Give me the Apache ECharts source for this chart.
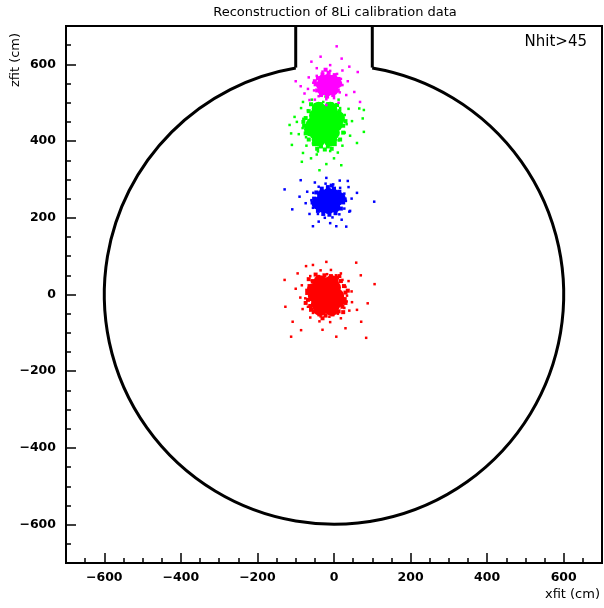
<!DOCTYPE html>
<html>
<head>
<meta charset="utf-8">
<title>Reconstruction of 8Li calibration data</title>
<script src="https://cdn.jsdelivr.net/npm/echarts@6/dist/echarts.min.js"></script>
<style>
  html, body { margin: 0; padding: 0; background: #fff; }
  #chart { width: 604px; height: 608px; }
</style>
</head>
<body>
<div id="chart"></div>
<script>
// axis range and labelled ticks (cm)
var AXIS_MIN = -700;
var AXIS_MAX = 700;
var TICK_VALUES = [-600, -400, -200, 0, 200, 400, 600];

// detector outline (cm)
var DETECTOR_RADIUS = 600;
var CHIMNEY_HALF_WIDTH = 100;
var CHIMNEY_TOP = 700;

// reconstructed vertices [xfit, zfit]: dense cores, fuzzy edges, sparse tails
var RED_CORE = [[-21,-3],[-50,-3],[8,-3],[-21,26],[-21,-32],[-42,18],[0,18],[-42,-24],[0,-24],
  [-36,-38],[-6,-38],[-36,32],[-6,32],[-53,12],[11,-15]];
var RED_EDGE = [[30,5],[28,-12],[26,22],[18,35],[8,44],[-8,48],[-25,50],[-42,45],[-55,35],
  [-64,22],[-70,4],[-68,-14],[-62,-30],[-52,-44],[-38,-52],[-22,-55],[-4,-52],[12,-44],
  [22,-32],[30,-22],[36,10],[-60,-40],[-48,52],[14,48],[-74,-22],[-66,40],[24,-46],[-30,-62]];
var RED_HALO = [[34,-3],[30,20],[22,38],[5,50],[-18,53],[-40,48],[-58,35],[-72,12],[-75,-10],
  [-68,-32],[-55,-48],[-35,-57],[-12,-58],[10,-50],[27,-35],[33,-18],
  [46,8],[38,35],[18,55],[-8,64],[-35,63],[-62,48],[-84,24],[-88,-8],[-82,-38],[-62,-60],
  [-38,-70],[-10,-72],[18,-62],[40,-42],[47,-20],
  [-129,38],[-127,-32],[-112,-110],[6,-110],[84,-113],[106,27],[58,83],[-73,74],[-55,77],
  [-86,-93],[-108,-71],[71,-71],[88,-23],[-100,15],[60,-40],[-30,-92],[30,-88],[-95,55],
  [70,50],[-20,85]];

var BLUE_CORE = [[-14,244],[-36,244],[8,244],[-14,264],[-14,224],[-30,260],[2,260],[-30,228],
  [2,228],[-44,236],[16,252]];
var BLUE_EDGE = [[24,240],[22,256],[14,268],[0,276],[-16,280],[-32,276],[-46,266],[-52,250],
  [-50,232],[-42,218],[-28,210],[-12,208],[4,212],[18,224],[28,248],[-56,240],[-6,284]];
var BLUE_HALO = [[31,244],[27,263],[16,278],[-2,287],[-22,289],[-40,281],[-54,265],[-59,246],
  [-55,226],[-42,210],[-24,200],[-4,201],[14,209],[27,224],
  [46,250],[38,280],[15,297],[-20,304],[-50,292],[-70,268],[-74,238],[-64,210],[-40,190],
  [-10,186],[20,195],[42,218],
  [-129,274],[105,242],[-109,222],[-87,298],[36,296],[40,216],[-55,178],[6,178],[32,177],
  [-90,255],[60,265]];

var GREEN_CORE = [[-25,444],[-55,444],[5,444],[-25,472],[-25,416],[-47,466],[-3,466],[-47,422],
  [-3,422],[-40,404],[-10,404],[-40,484],[-10,484],[10,460],[-60,430]];
var GREEN_EDGE = [[24,440],[22,460],[14,478],[2,490],[-16,496],[-34,496],[-52,490],[-66,478],
  [-74,460],[-78,440],[-74,420],[-66,404],[-52,392],[-34,386],[-16,386],[2,392],[16,404],
  [24,422],[-80,450],[30,452],[-24,378],[-44,380],[-6,380],[-60,496],[8,494]];
var GREEN_HALO = [[33,444],[28,468],[16,486],[-5,498],[-28,502],[-50,496],[-68,480],[-80,458],
  [-82,434],[-73,410],[-55,394],[-32,387],[-8,390],[12,402],[28,422],
  [47,452],[38,484],[12,508],[-22,516],[-58,508],[-86,486],[-97,450],[-92,418],[-72,388],
  [-42,373],[-10,374],[22,388],[42,414],
  [-84,346],[-38,324],[19,337],[-81,369],[-116,442],[-112,420],[78,424],[75,459],[66,485],
  [-103,463],[78,481],[-81,502],[-60,355],[0,355],[-20,340],[-45,365],[10,370],[60,395],
  [-110,390]];

var MAGENTA_CORE = [[-16,546],[-34,546],[2,546],[-16,562],[-16,530],[-30,560],[-2,560],
  [-30,532],[-2,532],[8,550]];
var MAGENTA_EDGE = [[16,548],[12,562],[2,572],[-14,578],[-30,574],[-42,564],[-48,548],
  [-44,532],[-34,520],[-18,516],[-2,520],[10,532],[-22,586],[-50,556]];
var MAGENTA_HALO = [[22,546],[18,562],[8,575],[-10,583],[-30,581],[-45,570],[-54,552],[-52,532],
  [-40,517],[-20,509],[0,512],[15,527],
  [36,556],[22,584],[-10,598],[-45,590],[-66,566],[-68,536],[-50,508],[-20,494],[12,500],
  [32,520],
  [7,647],[-59,607],[62,580],[-100,556],[-87,543],[53,528],[40,594],[-77,524],[68,502],
  [-64,507],[-35,620],[20,615]];

var FONT = 'DejaVu Sans';

function tickLabel(v) {
  return v < 0 ? '\u2212' + Math.abs(v) : String(v);
}

// circle with the chimney cut out, drawn through the axes' scales
function renderDetector(params, api) {
  var c = api.coord([0, 0]);
  var r = api.size([DETECTOR_RADIUS, 0])[0];
  var zJoin = Math.sqrt(DETECTOR_RADIUS * DETECTOR_RADIUS - CHIMNEY_HALF_WIDTH * CHIMNEY_HALF_WIDTH);
  var leftJoin = api.coord([-CHIMNEY_HALF_WIDTH, zJoin]);
  var rightJoin = api.coord([CHIMNEY_HALF_WIDTH, zJoin]);
  var leftTop = api.coord([-CHIMNEY_HALF_WIDTH, CHIMNEY_TOP]);
  var rightTop = api.coord([CHIMNEY_HALF_WIDTH, CHIMNEY_TOP]);
  var a0 = Math.atan2(rightJoin[1] - c[1], rightJoin[0] - c[0]);
  var a1 = Math.atan2(leftJoin[1] - c[1], leftJoin[0] - c[0]) + 2 * Math.PI;
  var st = { fill: 'none', stroke: '#000', lineWidth: 3 };
  return {
    type: 'group',
    children: [
      { type: 'arc', shape: { cx: c[0], cy: c[1], r: r, startAngle: a0, endAngle: a1, clockwise: true }, style: st },
      { type: 'polyline', shape: { points: [leftTop, leftJoin] }, style: st },
      { type: 'polyline', shape: { points: [rightJoin, rightTop] }, style: st }
    ]
  };
}

function majorAxis(pos, labelMargin) {
  return {
    type: 'value', min: AXIS_MIN, max: AXIS_MAX, interval: 50, position: pos,
    axisLine: { show: false, onZero: false },
    splitLine: { show: false },
    axisTick: { inside: true, length: 10, customValues: TICK_VALUES, lineStyle: { color: '#000', width: 1.5 } },
    axisLabel: {
      customValues: TICK_VALUES, margin: labelMargin, formatter: tickLabel,
      color: '#000', fontFamily: FONT, fontSize: 12.5, fontWeight: 'bold'
    }
  };
}

function minorAxis(pos) {
  return {
    type: 'value', min: AXIS_MIN, max: AXIS_MAX, interval: 50, position: pos,
    axisLine: { show: false, onZero: false },
    splitLine: { show: false },
    axisTick: { inside: true, length: 5, lineStyle: { color: '#000', width: 1.5 } },
    axisLabel: { show: false }
  };
}

function cluster(core, edge, halo, color, coreSize) {
  return [
    { type: 'scatter', data: core, symbol: 'circle', symbolSize: coreSize,
      itemStyle: { color: color, opacity: 1 }, silent: true, z: 3 },
    { type: 'scatter', data: edge, symbol: 'rect', symbolSize: 4,
      itemStyle: { color: color, opacity: 1 }, silent: true, z: 3 },
    { type: 'scatter', data: halo, symbol: 'rect', symbolSize: 2.5,
      itemStyle: { color: color, opacity: 1 }, silent: true, z: 3 }
  ];
}

var chart = echarts.init(document.getElementById('chart'), null, { renderer: 'canvas' });

var option = {
  animation: false,
  backgroundColor: '#fff',
  grid: { left: 66, right: 2, top: 26, bottom: 45, show: true, borderColor: '#000', borderWidth: 2, backgroundColor: 'transparent' },
  xAxis: [majorAxis('bottom', 8), minorAxis('bottom')],
  yAxis: [majorAxis('left', 10), minorAxis('left')],
  graphic: [
    { type: 'text', x: 335, y: 13, style: { text: 'Reconstruction of 8Li calibration data', fontFamily: FONT, fontSize: 13, fill: '#000', textAlign: 'center', textVerticalAlign: 'middle' } },
    { type: 'text', x: 587, y: 42, style: { text: 'Nhit>45', fontFamily: FONT, fontSize: 15, fill: '#000', textAlign: 'right', textVerticalAlign: 'middle' } },
    { type: 'text', x: 600, y: 595, style: { text: 'xfit (cm)', fontFamily: FONT, fontSize: 13, fill: '#000', textAlign: 'right', textVerticalAlign: 'middle' } },
    { type: 'text', x: 16, y: 60, rotation: Math.PI / 2, style: { text: 'zfit (cm)', fontFamily: FONT, fontSize: 13, fill: '#000', textAlign: 'center', textVerticalAlign: 'middle' } }
  ],
  series: [
    { type: 'custom', data: [[0, 0]], renderItem: renderDetector, silent: true, z: 2 }
  ].concat(
    cluster(RED_CORE, RED_EDGE, RED_HALO, '#ff0000', 14),
    cluster(BLUE_CORE, BLUE_EDGE, BLUE_HALO, '#0000ff', 11),
    cluster(GREEN_CORE, GREEN_EDGE, GREEN_HALO, '#00ff00', 14),
    cluster(MAGENTA_CORE, MAGENTA_EDGE, MAGENTA_HALO, '#ff00ff', 10)
  )
};

chart.setOption(option);
</script>
</body>
</html>
